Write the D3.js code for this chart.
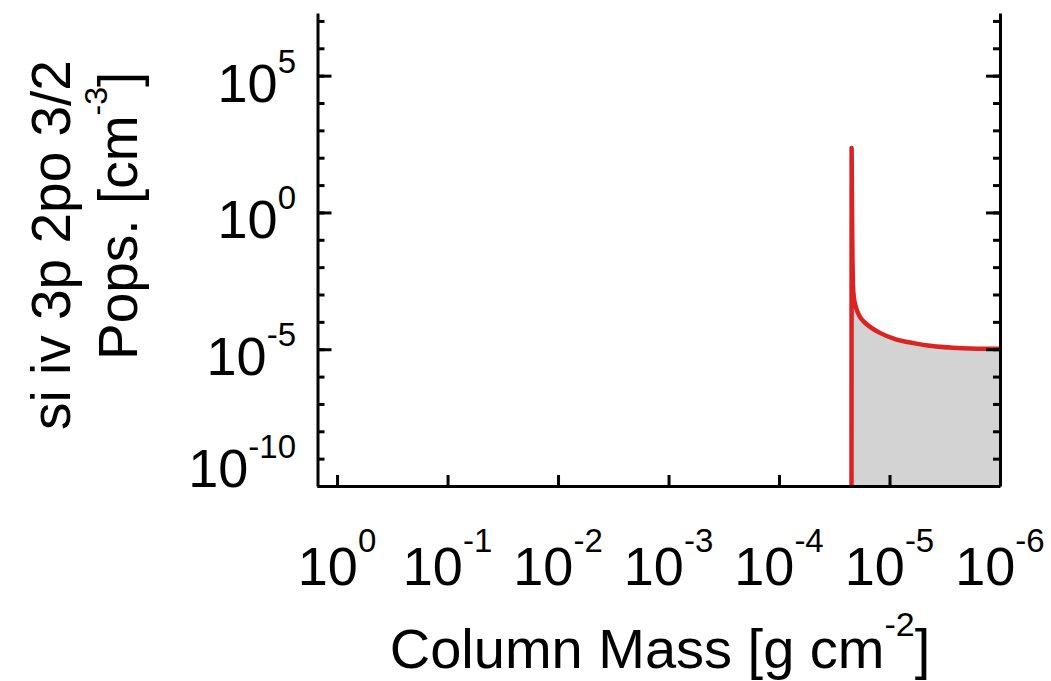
<!DOCTYPE html>
<html>
<head>
<meta charset="utf-8">
<script src="https://cdn.jsdelivr.net/npm/d3@7"></script>
<style>
	body { margin: 0; background: #fff; }
	svg { display: block; }
	text { font-family: "Liberation Sans", Arial, Helvetica, sans-serif; fill: #000; }
</style>
</head>
<body>
<div id="chart"></div>
<script>
// DATA
// column mass [g cm^-2], decreasing to the right
const colMass = [1.5, 2.213e-5, 2.203e-5, 2.188e-5, 2.163e-5, 2.143e-5, 2.10e-5, 2.03e-5, 1.95e-5,
	1.85e-5, 1.70e-5, 1.50e-5, 1.22e-5, 8.75e-6, 5.89e-6, 4.31e-6, 2.16e-6, 1.00e-6];
// level population [cm^-3]; 1e-20 stands for the empty (zero) part
const pops = [1e-20, 1e-20, 227, 2.92, 1.86e-2, 2.26e-3, 7.57e-4, 3.86e-4, 2.33e-4,
	1.53e-4, 1.00e-4, 6.58e-5, 3.96e-5, 2.29e-5, 1.64e-5, 1.33e-5, 1.09e-5, 1.03e-5];

const xTicks = [1, 1e-1, 1e-2, 1e-3, 1e-4, 1e-5, 1e-6];
const xTickExp = ['0', '-1', '-2', '-3', '-4', '-5', '-6'];
const yMajor = [1e-10, 1e-5, 1, 1e5];
const yMajorExp = ['-10', '-5', '0', '5'];
const yMinor = d3.range(-10, 8).map(e => Math.pow(10, e));

// THE GOOD STUFF
const width = 1051, height = 681;
const margin = { top: 13, right: 51, bottom: 195, left: 317.5 };
const x0 = margin.left, x1 = width - margin.right;
const y0 = height - margin.bottom, y1 = margin.top;
const lineColour = '#dc2222';
const fillColour = '#d3d3d3';

const data = colMass.map((m, i) => ({ m, p: pops[i] }));

const xScale = d3.scaleLog()
	.domain([Math.pow(10, 0.177), 1e-6])
	.range([x0, x1]);

const yScale = d3.scaleLog()
	.domain([1e-10, Math.pow(10, 7.29)])
	.range([y0, y1]);

const svg = d3.select('#chart')
	.append('svg')
	.attr('width', width)
	.attr('height', height);

svg.append('defs')
	.append('clipPath')
	.attr('id', 'plot-clip')
	.append('rect')
	.attr('x', x0)
	.attr('y', y1)
	.attr('width', x1 - x0)
	.attr('height', y0 - y1);

const plot = svg.append('g').attr('clip-path', 'url(#plot-clip)');

// shaded area under the curve
plot.append('path')
	.datum(data)
	.attr('fill', fillColour)
	.attr('d', d3.area()
		.curve(d3.curveMonotoneX)
		.x(d => xScale(d.m))
		.y0(y0)
		.y1(d => yScale(d.p)));

// the populations
plot.append('path')
	.datum(data)
	.attr('fill', 'none')
	.attr('stroke', lineColour)
	.attr('stroke-width', 4.5)
	.attr('stroke-linejoin', 'round')
	.attr('d', d3.line()
		.curve(d3.curveMonotoneX)
		.x(d => xScale(d.m))
		.y(d => yScale(d.p)));

// axes
const styleAxis = g => {
	g.selectAll('.domain').attr('stroke', '#000').attr('stroke-width', 3);
	g.selectAll('.tick line').attr('stroke', '#000').attr('stroke-width', 3);
	g.selectAll('.tick text').remove();
};

// left, ticks pointing in
svg.append('g')
	.attr('transform', `translate(${x0},0)`)
	.call(d3.axisRight(yScale).tickValues(yMinor).tickSize(7).tickSizeOuter(0).tickFormat(''))
	.call(styleAxis);
svg.append('g')
	.attr('transform', `translate(${x0},0)`)
	.call(d3.axisRight(yScale).tickValues(yMajor).tickSize(14).tickSizeOuter(0).tickFormat(''))
	.call(styleAxis)
	.call(g => g.select('.domain').remove());

// right, mirror
svg.append('g')
	.attr('transform', `translate(${x1},0)`)
	.call(d3.axisLeft(yScale).tickValues(yMinor).tickSize(7).tickSizeOuter(0).tickFormat(''))
	.call(styleAxis);
svg.append('g')
	.attr('transform', `translate(${x1},0)`)
	.call(d3.axisLeft(yScale).tickValues(yMajor).tickSize(14).tickSizeOuter(0).tickFormat(''))
	.call(styleAxis)
	.call(g => g.select('.domain').remove());

// bottom
svg.append('g')
	.attr('transform', `translate(0,${y0})`)
	.call(d3.axisTop(xScale).tickValues(xTicks).tickSize(11).tickSizeOuter(0).tickFormat(''))
	.call(styleAxis);

// tick labels with superscripts
const tickSize = 54, supSize = 33;

const xLabels = svg.append('g');
xTicks.forEach((t, i) => {
	const txt = xLabels.append('text')
		.attr('x', xScale(t))
		.attr('y', 585)
		.attr('text-anchor', 'middle')
		.attr('font-size', tickSize);
	txt.append('tspan').text('10');
	txt.append('tspan').attr('dy', -33).attr('font-size', supSize).text(xTickExp[i]);
});

const yLabels = svg.append('g');
yMajor.forEach((t, i) => {
	const txt = yLabels.append('text')
		.attr('x', 296)
		.attr('y', Math.min(yScale(t) + 26, 487))
		.attr('text-anchor', 'end')
		.attr('font-size', tickSize);
	txt.append('tspan').text('10');
	txt.append('tspan').attr('dy', -29).attr('font-size', supSize).text(yMajorExp[i]);
});

// axis titles
const xTitle = svg.append('text')
	.attr('x', 660)
	.attr('y', 668)
	.attr('text-anchor', 'middle')
	.attr('font-size', 56);
xTitle.append('tspan').text('Column Mass [g cm');
xTitle.append('tspan').attr('dy', -32).attr('font-size', 34).text('-2');
xTitle.append('tspan').attr('dy', 32).text(']');

svg.append('text')
	.attr('transform', 'translate(70,430) rotate(-90)')
	.attr('font-size', 55)
	.text('si iv 3p 2po 3/2');

const yTitle = svg.append('text')
	.attr('transform', 'translate(137,360) rotate(-90)')
	.attr('font-size', 55);
yTitle.append('tspan').text('Pops. [cm');
yTitle.append('tspan').attr('dy', -30).attr('font-size', 32).text('-3');
yTitle.append('tspan').attr('dy', 30).text(']');
</script>
</body>
</html>
